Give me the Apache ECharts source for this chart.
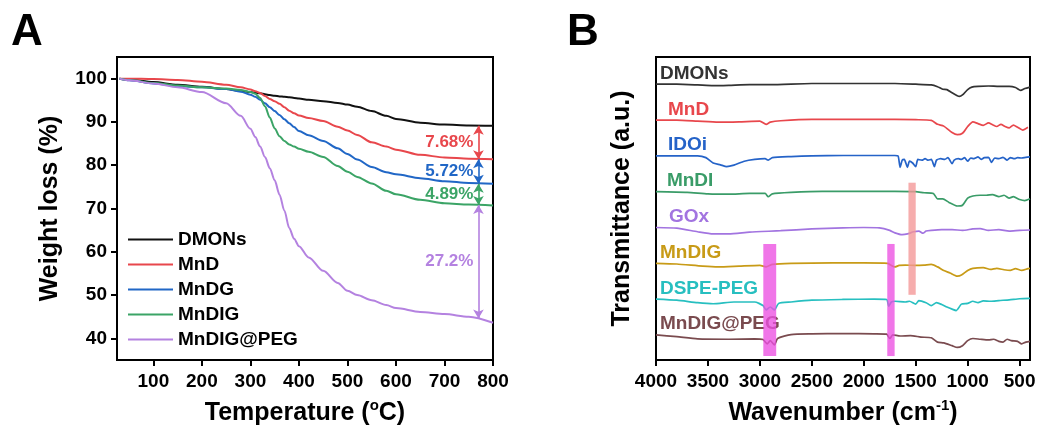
<!DOCTYPE html>
<html><head><meta charset="utf-8">
<script src="https://cdn.jsdelivr.net/npm/echarts@6/dist/echarts.min.js"></script>
<style>html,body{margin:0;padding:0;background:#fff}#c{width:1040px;height:428px}</style>
</head><body><div id="c"></div>
<script>
// ---------- Panel A: TGA ----------
const tgaTemp = [30, 50, 100, 150, 200, 250, 280, 300, 310, 320, 330, 340, 350, 360, 370, 380, 390, 400, 420, 450, 480, 500, 520, 550, 580, 600, 650, 700, 750, 800];
const tgaDMONs = [100, 99.8, 99.2, 98.6, 98.1, 97.6, 97.2, 96.9, 96.75, 96.6, 96.4, 96.2, 96.05, 95.9, 95.8, 95.7, 95.55, 95.4, 95.1, 94.8, 94.4, 94.0, 93.5, 92.5, 91.4, 90.7, 89.8, 89.4, 89.2, 89.1];
const tgaMnD = [100, 100, 99.9, 99.7, 99.3, 98.6, 98.0, 97.5, 97.1, 96.7, 96.0, 95.3, 94.8, 94.2, 93.4, 92.6, 92.0, 91.5, 90.9, 90.2, 88.9, 88.0, 87.0, 85.3, 84.3, 83.6, 82.4, 81.8, 81.5, 81.4];
const tgaMnDG = [100, 99.6, 98.9, 98.3, 98.0, 97.6, 97.0, 96.3, 95.8, 95.1, 94.3, 93.4, 92.5, 91.6, 90.6, 89.7, 88.8, 87.9, 86.9, 85.6, 83.9, 82.6, 81.3, 79.6, 78.4, 77.9, 77.0, 76.3, 75.9, 75.7];
const tgaMnDIG = [100, 99.7, 99.0, 98.4, 98.0, 97.7, 97.4, 96.9, 96.5, 95.5, 93.6, 91.0, 88.5, 86.7, 85.6, 84.8, 84.3, 83.8, 83.1, 81.9, 79.8, 78.5, 77.3, 75.8, 74.1, 73.3, 72.0, 71.2, 70.9, 70.7];
const tgaMnDIGPEG = [100, 99.6, 98.9, 98.0, 96.9, 94.3, 91.4, 88.4, 86.5, 84.3, 81.9, 79.3, 76.5, 73.2, 69.5, 65.5, 63.0, 61.3, 58.7, 55.6, 52.8, 51.0, 50.0, 48.8, 47.7, 47.0, 46.1, 45.6, 45.0, 43.6];
const tgaNames = ['DMONs', 'MnD', 'MnDG', 'MnDIG', 'MnDIG@PEG'];
const tgaTicksX = [100, 200, 300, 400, 500, 600, 700, 800];
const tgaTicksY = [40, 50, 60, 70, 80, 90, 100];
const annoTemp = 770;
const annoSpans = [[89.1, 81.4], [81.4, 75.7], [75.7, 70.8], [70.8, 44.6]];
const annoLabels = ['7.68%', '5.72%', '4.89%', '27.2%'];

// ---------- Panel B: FTIR ----------
const ftirNames = ['DMONs', 'MnD', 'IDOi', 'MnDI', 'GOx', 'MnDIG', 'DSPE-PEG', 'MnDIG@PEG'];
const ftirDMONs = [[4000,0],[3800,0],[3600,-0.02],[3450,-0.04],[3300,-0.03],[3100,-0.01],[2900,-0.01],[2500,0.02],[2000,0.02],[1700,0.02],[1500,0],[1350,-0.02],[1290,-0.07],[1240,-0.14],[1200,-0.15],[1150,-0.24],[1100,-0.32],[1080,-0.34],[1050,-0.3],[1000,-0.15],[960,-0.08],[900,-0.06],[800,-0.05],[700,-0.06],[600,-0.06],[540,-0.09],[490,-0.17],[450,-0.12],[400,-0.08]];
const ftirMnD = [[4000,0],[3800,0],[3600,-0.03],[3400,-0.06],[3200,-0.05],[3000,-0.03],[2940,-0.12],[2900,-0.06],[2800,-0.02],[2500,0.02],[2000,0.02],[1700,0.02],[1500,0.01],[1350,-0.01],[1290,-0.12],[1230,-0.17],[1150,-0.35],[1100,-0.41],[1050,-0.37],[1000,-0.18],[950,-0.05],[900,-0.1],[850,-0.15],[800,-0.08],[760,-0.13],[720,-0.18],[680,-0.12],[640,-0.18],[600,-0.22],[560,-0.14],[520,-0.2],[470,-0.28],[420,-0.2]];
const ftirIDOi = [[4000,0],[3600,0],[3520,-0.05],[3450,-0.2],[3380,-0.25],[3320,-0.3],[3250,-0.26],[3150,-0.15],[3050,-0.1],[2950,-0.08],[2920,-0.12],[2880,-0.05],[2700,-0.02],[2500,0],[2200,0.01],[1900,0.01],[1700,0.01],[1670,0],[1650,-0.32],[1630,-0.12],[1610,-0.1],[1580,-0.32],[1560,-0.15],[1530,-0.2],[1500,-0.3],[1480,-0.1],[1440,-0.12],[1410,-0.08],[1380,-0.12],[1350,-0.1],[1320,-0.3],[1300,-0.12],[1260,-0.08],[1220,-0.1],[1190,-0.05],[1150,-0.22],[1130,-0.12],[1090,-0.08],[1060,-0.1],[1030,-0.05],[1000,-0.15],[970,-0.06],[940,-0.08],[900,-0.03],[870,-0.1],[840,-0.05],[800,-0.04],[770,-0.18],[740,-0.06],[700,-0.08],[660,-0.04],[620,-0.12],[590,-0.05],[550,-0.08],[520,-0.05],[480,-0.06],[440,-0.04],[400,-0.03]];
const ftirMnDI = [[4000,0],[3700,-0.02],[3500,-0.06],[3300,-0.07],[3100,-0.05],[2950,-0.05],[2920,-0.14],[2880,-0.06],[2700,-0.02],[2400,0.01],[2000,0.01],[1700,0.01],[1500,0],[1420,-0.03],[1330,-0.05],[1290,-0.2],[1240,-0.2],[1180,-0.3],[1100,-0.4],[1050,-0.38],[1000,-0.18],[950,-0.12],[880,-0.1],[820,-0.1],[760,-0.08],[700,-0.14],[650,-0.1],[600,-0.18],[560,-0.14],[500,-0.22],[450,-0.25],[400,-0.2]];
const ftirGOx = [[4000,0],[3800,-0.02],[3600,-0.12],[3450,-0.18],[3300,-0.18],[3100,-0.13],[2800,-0.09],[2500,-0.04],[2200,-0.01],[2000,0],[1850,-0.01],[1750,-0.08],[1700,-0.15],[1630,-0.2],[1580,-0.18],[1520,-0.12],[1470,-0.1],[1430,-0.16],[1400,-0.1],[1350,-0.08],[1250,-0.06],[1150,-0.06],[1050,-0.08],[950,-0.04],[880,-0.03],[800,-0.08],[700,-0.06],[600,-0.1],[500,-0.08],[400,-0.07]];
const ftirMnDIG = [[4000,0],[3800,-0.02],[3550,-0.08],[3400,-0.1],[3200,-0.08],[3000,-0.06],[2940,-0.1],[2880,-0.03],[2700,0],[2300,0.01],[2000,0.01],[1770,0],[1740,-0.05],[1700,-0.1],[1660,-0.06],[1600,-0.05],[1500,-0.06],[1420,-0.05],[1350,-0.03],[1290,-0.1],[1230,-0.2],[1170,-0.27],[1100,-0.36],[1060,-0.33],[1000,-0.2],[950,-0.14],[850,-0.12],[780,-0.17],[720,-0.14],[650,-0.18],[590,-0.2],[540,-0.15],[480,-0.2],[420,-0.15],[400,-0.14]];
const ftirDSPEPEG = [[4000,0],[3800,-0.03],[3600,-0.1],[3450,-0.13],[3250,-0.08],[3050,-0.08],[2970,-0.18],[2940,-0.3],[2900,-0.22],[2860,-0.3],[2820,-0.12],[2700,-0.08],[2500,-0.03],[2200,-0.01],[1900,0],[1780,-0.01],[1760,-0.2],[1735,-0.08],[1700,-0.06],[1600,-0.08],[1560,-0.06],[1500,-0.14],[1470,-0.04],[1400,-0.1],[1350,-0.18],[1300,-0.1],[1250,-0.15],[1200,-0.22],[1150,-0.28],[1110,-0.32],[1060,-0.14],[1000,-0.12],[950,-0.06],[900,-0.1],[850,-0.05],[780,-0.06],[700,-0.04],[600,-0.02],[500,0.01],[400,0.02]];
const ftirMnDIGPEG = [[4000,0],[3800,-0.05],[3600,-0.11],[3300,-0.12],[3050,-0.11],[2970,-0.13],[2930,-0.25],[2900,-0.16],[2860,-0.28],[2830,-0.1],[2700,0.01],[2500,0.03],[2200,0.04],[1900,0.03],[1780,0.02],[1750,-0.1],[1720,0],[1650,-0.03],[1550,-0.02],[1450,-0.06],[1350,-0.08],[1290,-0.2],[1230,-0.22],[1150,-0.3],[1100,-0.35],[1050,-0.3],[1000,-0.16],[950,-0.1],[880,-0.12],[800,-0.14],[750,-0.12],[700,-0.18],[660,-0.2],[620,-0.12],[580,-0.16],[520,-0.18],[480,-0.25],[440,-0.2],[400,-0.18]];
const ftirTicksX = [4000, 3500, 3000, 2500, 2000, 1500, 1000, 500];
const ftirBands = [[2967, 2843, 0.11, 3.24], [1774, 1703, 0.11, 3.24], [1570, 1500, 1.82, 4.95]];

// ---------- styling ----------
const FONT = '"Liberation Sans", Arial, sans-serif';
const tgaColors = ['#111111', '#e8474c', '#2167c6', '#3ba466', '#b482e0'];
const ftirColors = ['#333333', '#e8474c', '#2563c8', '#3a9c68', '#a274e0', '#c89b17', '#27bfc0', '#7a4b4f'];
const bandColors = ['rgba(236,80,226,0.78)', 'rgba(236,80,226,0.78)', 'rgba(243,150,150,0.78)'];
const ftirOffset = [7.7, 6.7, 5.7, 4.7, 3.7, 2.7, 1.7, 0.7];
const ftirLabelWave = [3962, 3885, 3885, 3895, 3875, 3962, 3962, 3962];
const ftirLabelLift = 0.3;

const tgaData = [tgaDMONs, tgaMnD, tgaMnDG, tgaMnDIG, tgaMnDIGPEG];
const ftirData = [ftirDMONs, ftirMnD, ftirIDOi, ftirMnDI, ftirGOx, ftirMnDIG, ftirDSPEPEG, ftirMnDIGPEG];

const tickLabel = { fontFamily: FONT, fontSize: 19, fontWeight: 'bold', color: '#000', formatter: v => String(v) };
const titleRich = {
  t: { fontFamily: FONT, fontSize: 25, fontWeight: 'bold', color: '#000', lineHeight: 30 },
  s: { fontFamily: FONT, fontSize: 15, fontWeight: 'bold', color: '#000', lineHeight: 15, verticalAlign: 'top' }
};

const series = [];
tgaData.forEach((vals, i) => {
  const s = {
    name: tgaNames[i], type: 'line', xAxisIndex: 0, yAxisIndex: 0,
    data: tgaTemp.map((t, k) => [t, vals[k]]),
    showSymbol: false, symbol: 'none', smooth: 0.3, smoothMonotone: 'x',
    lineStyle: { color: tgaColors[i], width: 2 }, itemStyle: { color: tgaColors[i] },
    z: 3
  };
  if (i >= 1) {
    const a = i - 1;
    const [top, bot] = annoSpans[a];
    s.markLine = {
      silent: true, symbol: ['arrow', 'arrow'], symbolSize: [8, 9],
      lineStyle: { color: tgaColors[i], width: 1.6, type: 'solid' },
      label: { show: false },
      data: [[{ coord: [annoTemp, top] }, { coord: [annoTemp, bot] }]]
    };
    s.markPoint = {
      silent: true, symbol: 'circle', symbolSize: 0,
      label: { show: true, position: 'left', distance: 5, formatter: annoLabels[a],
        fontFamily: FONT, fontSize: 17, fontWeight: 'bold', color: tgaColors[i] },
      data: [{ coord: [annoTemp, (top + bot) / 2] }]
    };
  }
  series.push(s);
});

ftirData.forEach((pts, i) => {
  series.push({
    name: 'FTIR ' + ftirNames[i], type: 'line', xAxisIndex: 1, yAxisIndex: 1,
    data: pts.map(p => [p[0], p[1] + ftirOffset[i]]),
    showSymbol: false, symbol: 'none', smooth: 0.2,
    lineStyle: { color: ftirColors[i], width: 1.7 }, itemStyle: { color: ftirColors[i] },
    z: 3,
    markPoint: {
      silent: true, symbol: 'circle', symbolSize: 0,
      label: { show: true, position: 'right', distance: 0, formatter: ftirNames[i],
        fontFamily: FONT, fontSize: 19, fontWeight: 'bold', color: ftirColors[i] },
      data: [{ coord: [ftirLabelWave[i], ftirOffset[i] + ftirLabelLift] }]
    }
  });
});

series.push({
  type: 'custom', xAxisIndex: 1, yAxisIndex: 1, z: 10, silent: true,
  data: ftirBands, encode: { x: [0, 1], y: [2, 3] },
  renderItem: (params, api) => {
    const p1 = api.coord([api.value(0), api.value(3)]);
    const p2 = api.coord([api.value(1), api.value(2)]);
    return { type: 'rect', shape: { x: Math.min(p1[0], p2[0]), y: p1[1], width: Math.abs(p2[0] - p1[0]), height: p2[1] - p1[1] },
      style: { fill: bandColors[params.dataIndex] } };
  }
});

const axisLine = { show: true, onZero: false, lineStyle: { color: '#000', width: 2 } };

const option = {
  animation: false,
  backgroundColor: '#fff',
  title: [
    { text: 'A', left: 11, top: 11, padding: 0, textStyle: { fontFamily: FONT, fontSize: 44, fontWeight: 'bold', color: '#000' } },
    { text: 'B', left: 567, top: 11, padding: 0, textStyle: { fontFamily: FONT, fontSize: 44, fontWeight: 'bold', color: '#000' } }
  ],
  legend: {
    data: tgaNames, orient: 'vertical', left: 127, top: 230,
    itemWidth: 45, itemHeight: 19, itemGap: 6, padding: 0,
    itemStyle: { color: 'transparent', borderColor: 'transparent', borderWidth: 0 },
    lineStyle: { width: 2 },
    textStyle: { fontFamily: FONT, fontSize: 19, fontWeight: 'bold', color: '#000' },
    selectedMode: false
  },
  grid: [
    { left: 117, top: 57, right: 547, bottom: 68, outerBoundsMode: 'none', containLabel: false, show: true, borderColor: '#000', borderWidth: 2, backgroundColor: 'transparent' },
    { left: 656, top: 57, right: 10, bottom: 68, outerBoundsMode: 'none', containLabel: false, show: true, borderColor: '#000', borderWidth: 2, backgroundColor: 'transparent' }
  ],
  xAxis: [
    { type: 'value', gridIndex: 0, min: 25, max: 800,
      axisLine, splitLine: { show: false },
      axisTick: { show: true, inside: false, length: 6, lineStyle: { width: 2, color: '#000' }, customValues: tgaTicksX },
      axisLabel: Object.assign({ margin: 12, customValues: tgaTicksX }, tickLabel),
      name: '{t|Temperature (}{s|o}{t|C)}', nameLocation: 'middle', nameGap: 38,
      nameTextStyle: { rich: titleRich } },
    { type: 'value', gridIndex: 1, min: 400, max: 4000, inverse: true,
      axisLine, splitLine: { show: false },
      axisTick: { show: true, inside: false, length: 6, lineStyle: { width: 2, color: '#000' }, customValues: ftirTicksX },
      axisLabel: Object.assign({ margin: 12, customValues: ftirTicksX }, tickLabel),
      name: '{t|Wavenumber (cm}{s|-1}{t|)}', nameLocation: 'middle', nameGap: 38,
      nameTextStyle: { rich: titleRich } }
  ],
  yAxis: [
    { type: 'value', gridIndex: 0, min: 35, max: 105,
      axisLine, splitLine: { show: false },
      axisTick: { show: true, inside: false, length: 6, lineStyle: { width: 2, color: '#000' }, customValues: tgaTicksY },
      axisLabel: Object.assign({ margin: 10, customValues: tgaTicksY }, tickLabel),
      name: 'Weight loss (%)', nameLocation: 'middle', nameGap: 54, nameRotate: 90,
      nameTextStyle: { fontFamily: FONT, fontSize: 25, fontWeight: 'bold', color: '#000' } },
    { type: 'value', gridIndex: 1, min: 0, max: 8.46,
      axisLine, splitLine: { show: false }, axisTick: { show: false }, axisLabel: { show: false },
      name: 'Transmittance (a.u.)', nameLocation: 'middle', nameGap: 21, nameRotate: 90,
      nameTextStyle: { fontFamily: FONT, fontSize: 25, fontWeight: 'bold', color: '#000' } }
  ],
  series
};

const chart = echarts.init(document.getElementById('c'), null, { renderer: 'canvas' });
chart.setOption(option);
</script></body></html>
